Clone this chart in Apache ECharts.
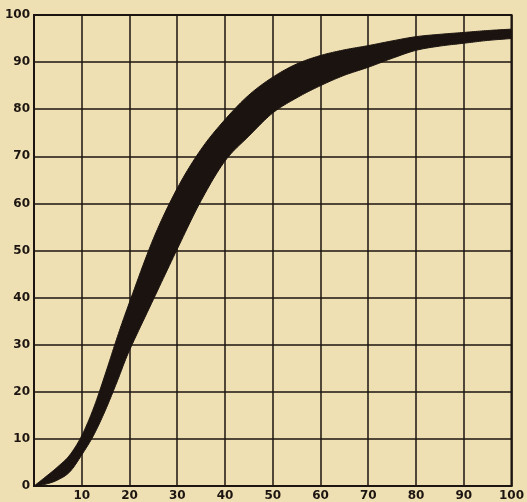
<!DOCTYPE html>
<html>
<head>
<meta charset="utf-8">
<script src="https://cdn.jsdelivr.net/npm/echarts@6/dist/echarts.min.js"></script>
<style>
html,body{margin:0;padding:0;background:#EFE0B3;}
#chart{width:527px;height:502px;}
</style>
</head>
<body>
<div id="chart"></div>
<script>
// Data
var xValues = [0, 2.5, 5, 7.5, 10, 12.5, 15, 17.5, 20, 25, 30, 35, 40, 45, 50, 55, 60, 65, 70, 75, 80, 85, 90, 95, 100];
var upperCurve = [0, 2.0, 4.1, 6.6, 10.7, 16.6, 24, 31.8, 39, 52.5, 63.2, 71.5, 77.8, 83, 86.8, 89.6, 91.4, 92.6, 93.5, 94.5, 95.4, 95.9, 96.3, 96.7, 97.0];
var lowerCurve = [0, 0.4, 1.3, 3.0, 6.6, 10.8, 16.2, 22.4, 28.8, 39.6, 50.3, 60.6, 69, 74.3, 79.2, 82.4, 85, 87.2, 88.9, 90.8, 92.5, 93.4, 94.0, 94.6, 95.0];
var xTickLabels = ['', '10', '20', '30', '40', '50', '60', '70', '80', '90', '100'];
var yTickLabels = ['0', '10', '20', '30', '40', '50', '60', '70', '80', '90', '100'];

var ink = '#1c1511';
var bandColor = '#1b1310';

// smooth drawing of a pixel-space polyline (Catmull-Rom -> cubic Bezier)
function smoothPath(pts, steps) {
  var out = [];
  var n = pts.length;
  for (var i = 0; i < n - 1; i++) {
    var p0 = pts[Math.max(i - 1, 0)], p1 = pts[i], p2 = pts[i + 1], p3 = pts[Math.min(i + 2, n - 1)];
    var c1 = [p1[0] + (p2[0] - p0[0]) / 6, p1[1] + (p2[1] - p0[1]) / 6];
    var c2 = [p2[0] - (p3[0] - p1[0]) / 6, p2[1] - (p3[1] - p1[1]) / 6];
    for (var s = 0; s < steps; s++) {
      var t = s / steps, u = 1 - t;
      out.push([
        u*u*u*p1[0] + 3*u*u*t*c1[0] + 3*u*t*t*c2[0] + t*t*t*p2[0],
        u*u*u*p1[1] + 3*u*u*t*c1[1] + 3*u*t*t*c2[1] + t*t*t*p2[1]
      ]);
    }
  }
  out.push(pts[n - 1]);
  return out;
}

var chart = echarts.init(document.getElementById('chart'), null, {renderer: 'canvas'});
chart.setOption({
  backgroundColor: '#EFE0B3',
  animation: false,
  grid: {left: 34, right: 15, top: 15, bottom: 16, show: true, borderColor: ink, borderWidth: 2, backgroundColor: 'transparent'},
  xAxis: {
    type: 'value', min: 0, max: 100, interval: 10,
    axisLine: {show: true, lineStyle: {color: ink, width: 2}},
    axisTick: {show: false},
    splitLine: {show: true, lineStyle: {color: ink, width: 1.5}},
    axisLabel: {
      margin: 4, color: ink, fontFamily: 'DejaVu Sans', fontWeight: 'bold', fontSize: 12,
      formatter: function (v) { return xTickLabels[Math.round(v / 10)]; }
    }
  },
  yAxis: {
    type: 'value', min: 0, max: 100, interval: 10,
    axisLine: {show: true, lineStyle: {color: ink, width: 2}},
    axisTick: {show: false},
    splitLine: {show: true, lineStyle: {color: ink, width: 1.5}},
    axisLabel: {
      margin: 4, color: ink, fontFamily: 'DejaVu Sans', fontWeight: 'bold', fontSize: 12,
      formatter: function (v) { return yTickLabels[Math.round(v / 10)]; }
    }
  },
  series: [
    {
      type: 'custom',
      data: [[0, 0]],
      clip: true,
      z: 3,
      renderItem: function (params, api) {
        var up = xValues.map(function (x, i) { return api.coord([x, upperCurve[i]]); });
        var lo = xValues.map(function (x, i) { return api.coord([x, lowerCurve[i]]); });
        var pts = smoothPath(up, 12).concat(smoothPath(lo, 12).reverse());
        return {
          type: 'polygon',
          shape: {points: pts},
          style: {fill: bandColor, stroke: bandColor, lineWidth: 1}
        };
      }
    }
  ]
});
</script>
</body>
</html>
